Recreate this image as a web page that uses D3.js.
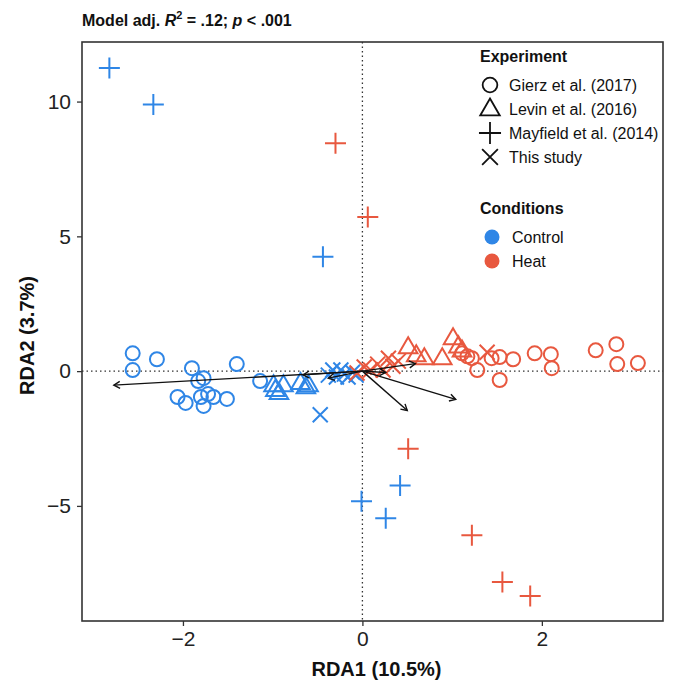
<!DOCTYPE html>
<html><head><meta charset="utf-8">
<script src="https://cdn.jsdelivr.net/npm/d3@7"></script>
<style>body{margin:0;background:#fff;} svg{display:block;font-family:"Liberation Sans",Arial,sans-serif;}</style>
</head><body>
<svg id="c" width="674" height="684"></svg>
<script>
// ---- data ----
const xTicks = [-2, 0, 2];
const yTicks = [-5, 0, 5, 10];
const experiments = ["Gierz et al. (2017)", "Levin et al. (2016)", "Mayfield et al. (2014)", "This study"];
const shapes = ["circle", "triangle", "plus", "cross"];
const conditions = ["Control", "Heat"];
const condColors = ["#2f86e6", "#e8583f"];

// [RDA1, RDA2]
const gierzControl = [[-2.56,0.66],[-2.56,0.04],[-2.29,0.44],[-1.9,0.11],[-1.83,-0.37],[-1.77,-0.26],[-2.06,-0.96],[-1.97,-1.18],[-1.8,-0.96],[-1.77,-1.29],[-1.72,-0.85],[-1.66,-0.96],[-1.51,-1.03],[-1.4,0.26],[-1.14,-0.37]];
const gierzHeat = [[1.11,0.66],[1.17,0.55],[1.22,0.48],[1.28,0.04],[1.44,0.48],[1.53,0.52],[1.53,-0.33],[1.68,0.44],[1.92,0.66],[2.1,0.63],[2.11,0.11],[2.6,0.77],[2.83,1.0],[2.84,0.26],[3.07,0.3]];
const levinControl = [[-0.99,-0.52],[-0.97,-0.7],[-0.93,-0.81],[-0.88,-0.52],[-0.69,-0.44],[-0.63,-0.59],[-0.6,-0.52]];
const levinHeat = [[0.51,0.89],[0.6,0.59],[0.69,0.48],[0.89,0.48],[1.01,1.22],[1.07,0.92],[1.11,0.77]];
const mayfieldControl = [[-2.82,11.25],[-2.33,9.89],[-0.44,4.24],[-0.01,-4.83],[0.42,-4.24],[0.26,-5.46]];
const mayfieldHeat = [[-0.3,8.45],[0.06,5.72],[0.51,-2.88],[1.22,-6.09],[1.56,-7.82],[1.87,-8.34]];
const thisControl = [[-0.47,-1.62],[-0.38,-0.15],[-0.33,0.04],[-0.29,-0.22],[-0.24,0.04],[-0.2,-0.11],[-0.16,-0.22],[-0.11,-0.04],[-0.07,-0.15]];
const thisHeat = [[-0.06,-0.07],[0.02,0.15],[0.09,0.04],[0.17,0.26],[0.23,0.04],[0.29,0.48],[0.34,0.18],[0.4,0.37],[1.39,0.7]];
const arrowTips = [[-2.77,-0.52],[-0.66,-0.14],[-0.38,-0.26],[0.26,-0.05],[0.59,0.28],[0.5,-1.46],[1.04,-1.05]];

// ---- layout ----
const W = 674, H = 684;
const m = {l: 82, t: 42, r: 11, b: 63};
const pw = W - m.l - m.r, ph = H - m.t - m.b;
const svg = d3.select("#c");
const x = d3.scaleLinear().domain([-3.125, 3.35]).range([m.l, m.l + pw]);
const y = d3.scaleLinear().domain([-9.27, 12.21]).range([m.t + ph, m.t]);

function shapePath(s, k) {
  k = k || 1;
  if (s === "circle") { const r = 7*k; return `M${-r},0A${r},${r} 0 1,0 ${r},0A${r},${r} 0 1,0 ${-r},0Z`; }
  if (s === "triangle") { const a = 9.3*k; const h = a*Math.sqrt(3); return `M0,${-h*0.62}L${a},${h*0.38}L${-a},${h*0.38}Z`; }
  if (s === "plus") { const a = 10.5*k; return `M${-a},0L${a},0M0,${-a}L0,${a}`; }
  const a = 7.5*k; return `M${-a},${-a}L${a},${a}M${-a},${a}L${a},${-a}`;
}

// zero lines
svg.append("line").attr("x1", m.l).attr("x2", m.l+pw).attr("y1", y(0)).attr("y2", y(0))
  .attr("stroke", "#333").attr("stroke-width", 1.3).attr("stroke-dasharray", "1.5,3");
svg.append("line").attr("y1", m.t).attr("y2", m.t+ph).attr("x1", x(0)).attr("x2", x(0))
  .attr("stroke", "#333").attr("stroke-width", 1.3).attr("stroke-dasharray", "1.5,3");

// points
const groups = [
  {d: gierzControl, s: 0, c: 0}, {d: gierzHeat, s: 0, c: 1},
  {d: levinControl, s: 1, c: 0}, {d: levinHeat, s: 1, c: 1},
  {d: mayfieldControl, s: 2, c: 0}, {d: mayfieldHeat, s: 2, c: 1},
  {d: thisControl, s: 3, c: 0}, {d: thisHeat, s: 3, c: 1}
];
const pts = svg.append("g");
groups.forEach(g => {
  pts.selectAll(null).data(g.d).enter().append("path")
    .attr("transform", d => `translate(${x(d[0])},${y(d[1])})`)
    .attr("d", shapePath(shapes[g.s]))
    .attr("fill", "none").attr("stroke", condColors[g.c]).attr("stroke-width", 2);
});

// arrows
const ag = svg.append("g").attr("stroke", "#111").attr("stroke-width", 1.4).attr("fill", "none");
arrowTips.forEach(t => {
  const x0 = x(0), y0 = y(0), x1 = x(t[0]), y1 = y(t[1]);
  ag.append("line").attr("x1", x0).attr("y1", y0).attr("x2", x1).attr("y2", y1);
  const ang = Math.atan2(y1 - y0, x1 - x0), L = 7, sp = Math.PI/6;
  ag.append("path").attr("d",
    `M${x1 - L*Math.cos(ang - sp)},${y1 - L*Math.sin(ang - sp)}L${x1},${y1}L${x1 - L*Math.cos(ang + sp)},${y1 - L*Math.sin(ang + sp)}`);
});

// panel border
svg.append("rect").attr("x", m.l).attr("y", m.t).attr("width", pw).attr("height", ph)
  .attr("fill", "none").attr("stroke", "#333").attr("stroke-width", 1.6);

// axes
const fmt = d => d < 0 ? "\u2212" + Math.abs(d) : String(d);
const xa = svg.append("g").attr("transform", `translate(0,${m.t+ph})`)
  .call(d3.axisBottom(x).tickValues(xTicks).tickFormat(fmt).tickSize(5).tickPadding(5));
const ya = svg.append("g").attr("transform", `translate(${m.l},0)`)
  .call(d3.axisLeft(y).tickValues(yTicks).tickFormat(fmt).tickSize(5).tickPadding(6));
[xa, ya].forEach(a => {
  a.select(".domain").remove();
  a.selectAll(".tick line").attr("stroke", "#333").attr("stroke-width", 1.3);
  a.selectAll(".tick text").attr("fill", "#222").style("font-size", "21px")
    .style("font-family", "'Liberation Sans',Arial,sans-serif");
});

// axis titles
svg.append("text").attr("x", m.l + pw/2 + 4).attr("y", 676).attr("text-anchor", "middle")
  .style("font-size", "20px").style("font-weight", "bold").attr("fill", "#111").text("RDA1 (10.5%)");
svg.append("text").attr("transform", `translate(34,${m.t + ph/2 + 4}) rotate(-90)`).attr("text-anchor", "middle")
  .style("font-size", "20px").style("font-weight", "bold").attr("fill", "#111").text("RDA2 (3.7%)");

// title
const tt = svg.append("text").attr("x", 82).attr("y", 26).style("font-size", "16px").style("font-weight", "bold").attr("fill", "#111");
tt.append("tspan").text("Model adj. ");
tt.append("tspan").style("font-style", "italic").text("R");
tt.append("tspan").attr("dy", -7).style("font-size", "11px").text("2");
tt.append("tspan").attr("dy", 7).text(" = .12; ");
tt.append("tspan").style("font-style", "italic").text("p");
tt.append("tspan").text(" < .001");

// legend
const lg = svg.append("g");
lg.append("text").attr("x", 480).attr("y", 62).style("font-size", "16px").style("font-weight", "bold").attr("fill", "#111").text("Experiment");
experiments.forEach((e, i) => {
  const yy = 85 + i*24;
  lg.append("path").attr("transform", `translate(490,${yy})`).attr("d", shapePath(shapes[i], 1.05))
    .attr("fill", "none").attr("stroke", "#111").attr("stroke-width", 1.8);
  lg.append("text").attr("x", 509).attr("y", yy + 5.5).style("font-size", "16px").attr("fill", "#111").text(e);
});
lg.append("text").attr("x", 480).attr("y", 214).style("font-size", "16px").style("font-weight", "bold").attr("fill", "#111").text("Conditions");
conditions.forEach((c, i) => {
  const yy = 237 + i*24;
  lg.append("circle").attr("cx", 492).attr("cy", yy).attr("r", 7.5).attr("fill", condColors[i]);
  lg.append("text").attr("x", 512).attr("y", yy + 5.5).style("font-size", "16px").attr("fill", "#111").text(c);
});
</script>
</body></html>
